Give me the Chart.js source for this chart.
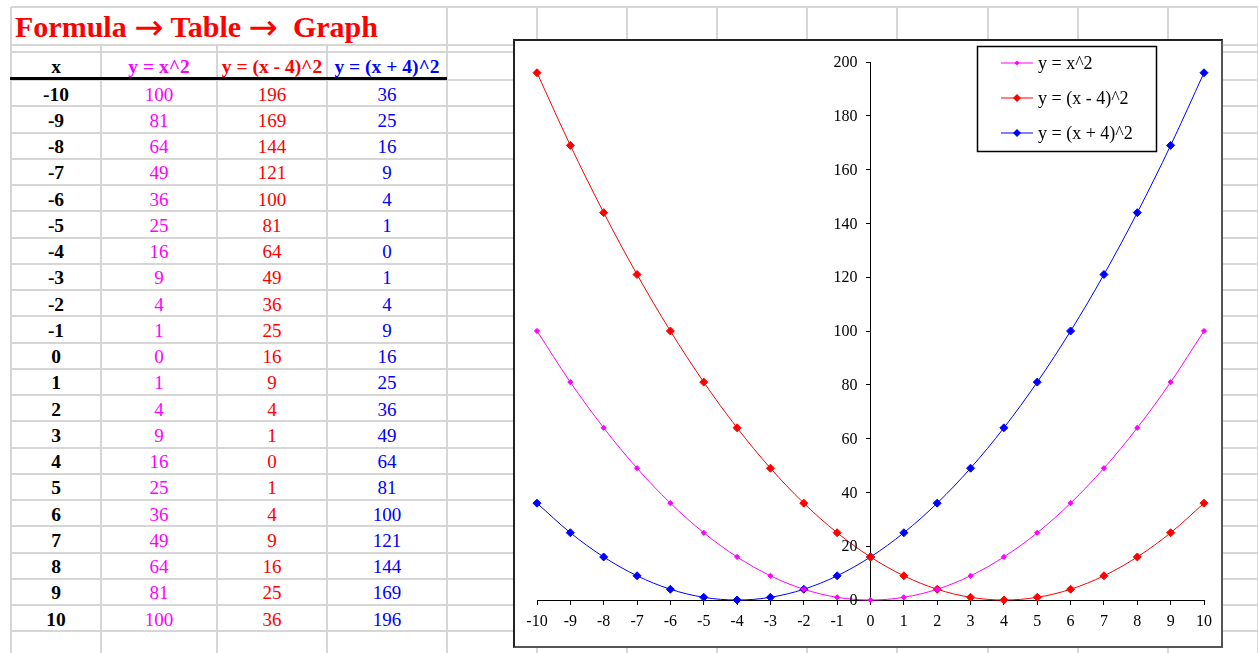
<!DOCTYPE html>
<html>
<head>
<meta charset="utf-8">
<script src="https://cdn.jsdelivr.net/npm/chart.js@4"></script>
<style>
  body { margin: 0; background: #fff; font-family: "Liberation Serif", "Times New Roman", serif; }
  #sheet { position: relative; width: 1258px; height: 653px; overflow: hidden; }
  .gl { position: absolute; background: #d6d6d6; }
  .cell { position: absolute; text-align: center; font-size: 19px; white-space: nowrap; }
  .head { font-weight: bold; font-size: 19.5px; }
  #title { position: absolute; left: 15px; top: 8px; height: 38px; line-height: 38px;
           font-size: 30px; font-weight: bold; color: #ff0000; white-space: nowrap; }
  #title .arr { font-family: "DejaVu Sans"; font-size: 35px; font-weight: normal;
                display: inline-block; line-height: 38px; vertical-align: top; }
  #thick { position: absolute; left: 10px; top: 77px; width: 437px; height: 3px; background: #000; }
  #chartBox { position: absolute; left: 513px; top: 39px; width: 710px; height: 609px;
              box-sizing: border-box; border: 2px solid #222; border-right-color: #555;
              border-bottom-color: #555; background: #fff; }
  #chartBox canvas { display: block; }
</style>
</head>
<body>
<div id="sheet">
  <div id="title">Formula <span class="arr">&rarr;</span> Table <span class="arr">&rarr;</span>&nbsp; Graph</div>
  <div id="thick"></div>
  <div id="chartBox"><canvas id="graph" width="706" height="605"></canvas></div>
</div>
<script>
// table / chart data
const xValues = [-10, -9, -8, -7, -6, -5, -4, -3, -2, -1, 0, 1, 2, 3, 4, 5, 6, 7, 8, 9, 10];
const ySquare = [100, 81, 64, 49, 36, 25, 16, 9, 4, 1, 0, 1, 4, 9, 16, 25, 36, 49, 64, 81, 100];
const yMinus4 = [196, 169, 144, 121, 100, 81, 64, 49, 36, 25, 16, 9, 4, 1, 0, 1, 4, 9, 16, 25, 36];
const yPlus4 = [36, 25, 16, 9, 4, 1, 0, 1, 4, 9, 16, 25, 36, 49, 64, 81, 100, 121, 144, 169, 196];
const headers = ["x", "y = x^2", "y = (x - 4)^2", "y = (x + 4)^2"];
const seriesLabels = ["y = x^2", "y = (x - 4)^2", "y = (x + 4)^2"];
const seriesColors = ["#ff00ff", "#ff0000", "#0000ff"];

// spreadsheet grid
const sheet = document.getElementById("sheet");
const colLines = [11, 101, 217, 327, 447, 537, 627, 717, 807, 897, 988, 1078, 1168, 1258];
const rowLines = [7, 45, 52, 80];
for (let i = 1; i <= 22; i++) rowLines.push(80 + 26.25 * i);

function addLine(x, y, w, h) {
  const d = document.createElement("div");
  d.className = "gl";
  d.style.left = x + "px";
  d.style.top = y + "px";
  d.style.width = w + "px";
  d.style.height = h + "px";
  sheet.insertBefore(d, sheet.firstChild);
}
rowLines.forEach((y) => addLine(11, Math.round(y) - 1, 1258, 2));
colLines.forEach((x) => {
  // title text spills over the first table columns
  const top = x > 11 && x < 447 ? 45 : 7;
  addLine(x - 1, top, 2, 653);
});

// table cells
const colBounds = [[11, 101], [101, 217], [217, 327], [327, 447]];
const colColors = ["#000", seriesColors[0], seriesColors[1], seriesColors[2]];

function addCell(text, col, top, h, bold) {
  const d = document.createElement("div");
  d.className = "cell" + (bold ? " head" : "");
  d.textContent = text;
  d.style.left = colBounds[col][0] + "px";
  d.style.width = colBounds[col][1] - colBounds[col][0] + "px";
  d.style.top = top + "px";
  d.style.height = h + "px";
  d.style.lineHeight = h + "px";
  d.style.color = colColors[col];
  sheet.appendChild(d);
}
headers.forEach((h, c) => addCell(h, c, 53, 28, true));
xValues.forEach((x, i) => {
  const top = 81.5 + 26.25 * i;
  addCell(String(x), 0, top, 26.25, true);
  addCell(String(ySquare[i]), 1, top, 26.25, false);
  addCell(String(yMinus4[i]), 2, top, 26.25, false);
  addCell(String(yPlus4[i]), 3, top, 26.25, false);
});

// chart
const tickFont = { family: "Liberation Serif", size: 16 };

function toPoints(ys) {
  return xValues.map((x, i) => ({ x: x, y: ys[i] }));
}

const pointSizes = [2.6, 4, 4];
const datasets = [ySquare, yMinus4, yPlus4].map((ys, k) => ({
  label: seriesLabels[k],
  data: toPoints(ys),
  borderColor: seriesColors[k],
  backgroundColor: seriesColors[k],
  borderWidth: 1,
  tension: 0.35,
  pointStyle: "rectRot",
  pointRadius: pointSizes[k],
  pointBorderWidth: 1,
  pointBackgroundColor: seriesColors[k],
  pointBorderColor: seriesColors[k],
  fill: false,
  clip: false,
}));

// y labels sit left of the centred axis, with a gap
const yAxisLabels = {
  id: "yAxisLabels",
  afterDraw(chart) {
    const ctx = chart.ctx;
    const xs = chart.scales.x;
    const ys = chart.scales.y;
    const x0 = xs.getPixelForValue(0);
    ctx.save();
    ctx.font = "16px 'Liberation Serif'";
    ctx.fillStyle = "#000";
    ctx.textAlign = "right";
    ctx.textBaseline = "middle";
    ys.ticks.forEach((t) => {
      ctx.fillText(String(t.value), x0 - 13, ys.getPixelForValue(t.value) + 1);
    });
    ctx.restore();
  },
};

const boxLegend = {
  id: "boxLegend",
  afterDraw(chart) {
    const ctx = chart.ctx;
    ctx.save();
    ctx.fillStyle = "#fff";
    ctx.fillRect(462, 5, 179, 105);
    ctx.strokeStyle = "#000";
    ctx.lineWidth = 1.5;
    ctx.strokeRect(462.5, 5.5, 179, 105);
    ctx.font = "18px 'Liberation Serif'";
    ctx.textBaseline = "middle";
    chart.data.datasets.forEach((ds, k) => {
      const y = 22 + k * 35;
      ctx.strokeStyle = ds.borderColor;
      ctx.lineWidth = 1;
      ctx.beginPath();
      ctx.moveTo(486, y);
      ctx.lineTo(518, y);
      ctx.stroke();
      const r = ds.pointRadius;
      ctx.fillStyle = ds.borderColor;
      ctx.beginPath();
      ctx.moveTo(502, y - r);
      ctx.lineTo(502 + r, y);
      ctx.lineTo(502, y + r);
      ctx.lineTo(502 - r, y);
      ctx.closePath();
      ctx.fill();
      ctx.fillStyle = "#000";
      ctx.fillText(ds.label, 523, y + 1);
    });
    ctx.restore();
  },
};

new Chart(document.getElementById("graph"), {
  type: "line",
  data: { datasets: datasets },
  options: {
    responsive: false,
    animation: false,
    layout: { padding: { left: 22, right: 17, top: 21, bottom: 0 } },
    plugins: { legend: { display: false }, tooltip: { enabled: false } },
    scales: {
      x: {
        type: "linear",
        position: "bottom",
        min: -10,
        max: 10,
        afterFit: (s) => { s.height = 46; },
        ticks: { stepSize: 1, color: "#000", font: tickFont, padding: 7, maxRotation: 0 },
        grid: { drawOnChartArea: false, drawTicks: true, tickLength: 5, color: "#000" },
        border: { color: "#000", width: 1 },
      },
      y: {
        type: "linear",
        position: { x: 0 },
        min: 0,
        max: 200,
        afterFit: (s) => { s.width = 0; },
        ticks: { stepSize: 20, display: false },
        grid: { drawOnChartArea: false, drawTicks: true, tickLength: 4, color: "#000" },
        border: { color: "#000", width: 1 },
      },
    },
  },
  plugins: [yAxisLabels, boxLegend],
});
</script>
</body>
</html>
